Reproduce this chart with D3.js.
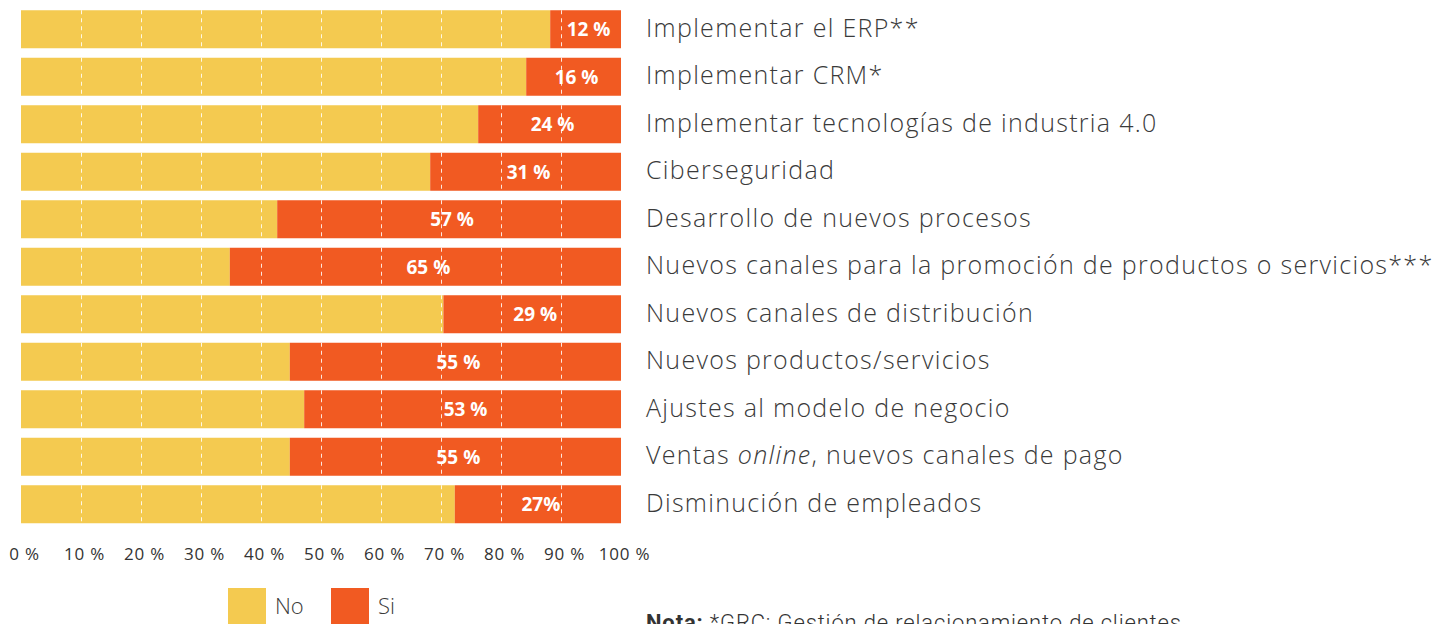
<!DOCTYPE html>
<html lang="es">
<head>
  <meta charset="UTF-8">
  <title>Acciones digitales</title>
  <script src="https://cdn.jsdelivr.net/npm/d3@7"></script>
  <style>
    html, body { margin: 0; padding: 0; background: #fff; }
    svg { display: block; }
    .cat { font-family: 'Open Sans', sans-serif; font-weight: 300; fill: #3a3a3a; }
    .val { font-family: 'Open Sans', sans-serif; font-weight: 700; fill: #fff; }
    .tick text { font-family: 'Open Sans', sans-serif; fill: #333; }
  </style>
</head>
<body>
  <script>
    // categorias (de arriba hacia abajo)
    const categories = [
      'Implementar el ERP**',
      'Implementar CRM*',
      'Implementar tecnologías de industria 4.0',
      'Ciberseguridad',
      'Desarrollo de nuevos procesos',
      'Nuevos canales para la promoción de productos o servicios***',
      'Nuevos canales de distribución',
      'Nuevos productos/servicios',
      'Ajustes al modelo de negocio',
      'Ventas online, nuevos canales de pago',
      'Disminución de empleados'
    ]
    const si = [11.8, 15.8, 23.8, 31.8, 57.3, 65.2, 29.6, 55.2, 52.8, 55.2, 27.7]
    const siLabels = ['12 %', '16 %', '24 %', '31 %', '57 %', '65 %', '29 %', '55 %', '53 %', '55 %', '27%']
    const ticks = [0, 10, 20, 30, 40, 50, 60, 70, 80, 90, 100]
    const series = ['No', 'Si']

    const width = 1437, height = 624
    const colors = { No: '#F4CA50', Si: '#F15A22' }

    const svg = d3.select('body').append('svg')
      .attr('width', width)
      .attr('height', height)

    const x = d3.scaleLinear().domain([0, 100]).range([21, 621])
    const y = d3.scaleBand().domain(categories).range([5.5, 528]).paddingInner(0.2).paddingOuter(0.1)

    const data = categories.map((c, i) => ({ cat: c, no: 100 - si[i], si: si[i], label: siLabels[i] }))

    const rows = svg.selectAll('.row')
      .data(data)
      .enter().append('g')
      .attr('class', 'row')

    rows.append('rect')
      .attr('x', x(0))
      .attr('y', d => y(d.cat))
      .attr('width', d => x(d.no) - x(0))
      .attr('height', y.bandwidth())
      .attr('fill', colors.No)

    rows.append('rect')
      .attr('x', d => x(d.no))
      .attr('y', d => y(d.cat))
      .attr('width', d => x(100) - x(d.no))
      .attr('height', y.bandwidth())
      .attr('fill', colors.Si)

    // lineas punteadas sobre las barras
    const grid = svg.append('g')
    categories.forEach(c => {
      grid.selectAll(null)
        .data(ticks.slice(1, -1))
        .enter().append('line')
        .attr('x1', d => x(d) + 0.5)
        .attr('x2', d => x(d) + 0.5)
        .attr('y1', y(c))
        .attr('y2', y(c) + y.bandwidth())
        .attr('stroke', '#fff')
        .attr('stroke-opacity', 0.85)
        .attr('stroke-width', 1)
        .attr('stroke-dasharray', '4,4')
    })

    rows.append('text')
      .attr('class', 'val')
      .attr('x', d => (x(d.no) + x(100)) / 2 + 3)
      .attr('y', d => y(d.cat) + y.bandwidth() / 2)
      .attr('dy', '0.36em')
      .attr('text-anchor', 'middle')
      .style('font-size', '19px')
      .text(d => d.label)

    const catText = rows.append('text')
      .attr('class', 'cat')
      .attr('x', 646)
      .attr('y', d => y(d.cat) + y.bandwidth() / 2)
      .attr('dy', '0.3em')
      .style('font-size', '25px')
      .style('letter-spacing', '1.3px')

    catText.each(function (d) {
      const t = d3.select(this)
      if (d.cat.indexOf('online') >= 0) {
        t.append('tspan').text('Ventas ')
        t.append('tspan').style('font-style', 'italic').text('online')
        t.append('tspan').text(', nuevos canales de pago')
      } else {
        t.text(d.cat)
      }
    })

    const axis = svg.append('g')
      .attr('transform', 'translate(0,538)')
      .call(d3.axisBottom(x).tickValues(ticks).tickFormat(d => d + ' %').tickSize(0).tickPadding(10))
    axis.select('.domain').remove()
    axis.selectAll('text')
      .style('font-size', '17px')
      .style('letter-spacing', '0.8px')
      .attr('dx', 3)

    // leyenda
    const legend = svg.append('g')
    const lx = [228, 331]
    series.forEach((s, i) => {
      legend.append('rect')
        .attr('x', lx[i]).attr('y', 588)
        .attr('width', 38).attr('height', 40)
        .attr('fill', colors[s])
      legend.append('text')
        .attr('class', 'cat')
        .attr('x', lx[i] + 47).attr('y', 614)
        .style('font-size', '22px')
        .text(s)
    })

    const note = svg.append('text')
      .attr('x', 646).attr('y', 630)
      .style('font-family', 'Roboto, sans-serif')
      .style('font-size', '22px')
      .style('letter-spacing', '0.85px')
      .attr('fill', '#333')
    note.append('tspan').style('font-weight', 700).text('Nota:')
    note.append('tspan').style('font-weight', 300).text(' *GRC: Gestión de relacionamiento de clientes')
  </script>
</body>
</html>
